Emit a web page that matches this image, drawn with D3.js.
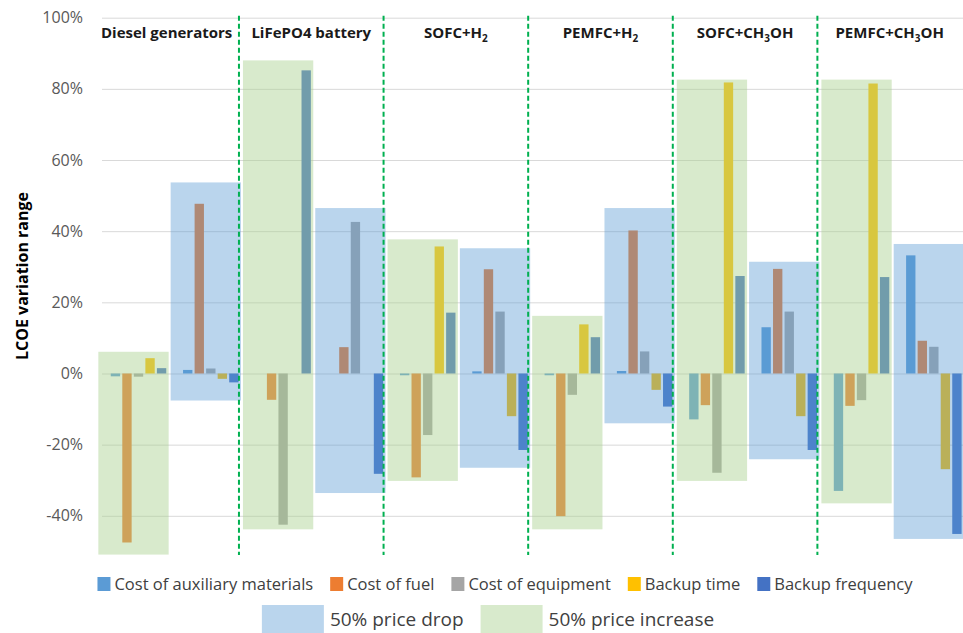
<!DOCTYPE html>
<html>
<head>
<meta charset="utf-8">
<script src="https://cdn.jsdelivr.net/npm/d3@7/dist/d3.min.js"></script>
<style>
  html, body { margin: 0; padding: 0; background: #fff; }
  svg { display: block; font-family: "Open Sans", "Noto Sans", sans-serif; }
</style>
</head>
<body>
<svg id="chart" width="963" height="633"></svg>
<script>
// ---------- data ----------
const technologies = ["Diesel generators", "LiFePO4 battery", "SOFC+H2", "PEMFC+H2", "SOFC+CH3OH", "PEMFC+CH3OH"];
const scenarios = ["50% price increase", "50% price drop"];
const seriesNames = ["Cost of auxiliary materials", "Cost of fuel", "Cost of equipment", "Backup time", "Backup frequency"];
// values in %, order: [tech1 increase, tech1 drop, tech2 increase, tech2 drop, ...]
const auxiliaryMaterials = [-0.8, 1.0, 0, 0, -0.5, 0.6, -0.5, 0.7, -12.9, 13.0, -33.0, 33.2];
const fuelCost          = [-47.5, 47.7, -7.4, 7.4, -29.2, 29.3, -40.1, 40.2, -8.9, 29.4, -9.1, 9.2];
const equipmentCost     = [-0.9, 1.4, -42.5, 42.6, -17.3, 17.4, -6.0, 6.2, -27.9, 17.4, -7.5, 7.5];
const backupTime        = [4.3, -1.5, 0, 0, 35.7, -12.0, 13.8, -4.6, 81.8, -12.0, 81.5, -26.9];
const backupFrequency   = [1.5, -2.5, 85.2, -28.2, 17.1, -21.5, 10.2, -9.3, 27.4, -21.5, 27.1, -45.1];
// overall variation range of each scenario box
const rangeHigh = [6.1, 53.7, 88.0, 46.5, 37.7, 35.2, 16.2, 46.5, 82.6, 31.4, 82.6, 36.4];
const rangeLow  = [-50.9, -7.6, -43.8, -33.6, -30.2, -26.5, -43.8, -14.0, -30.2, -24.1, -36.5, -46.5];
const yTicks = [-40, -20, 0, 20, 40, 60, 80, 100];

// ---------- styles ----------
const seriesColors = ["#5B9BD5", "#ED7D31", "#A5A5A5", "#FFC000", "#4472C4"];
const boxColor = { "50% price increase": "#A9D18E", "50% price drop": "#5B9BD5" };
const boxOpacity = { "50% price increase": 0.45, "50% price drop": 0.42 };

const svg = d3.select("#chart");
const values = [auxiliaryMaterials, fuelCost, equipmentCost, backupTime, backupFrequency];

const categories = [];
technologies.forEach(t => scenarios.forEach(s => categories.push(t + "|" + s)));

const x = d3.scaleBand().domain(categories).range([102.35, 970]).padding(0);
const inner = d3.scaleBand().domain(seriesNames).range([0, 55.5]).paddingInner(0.19);
const innerOffset = (x.bandwidth() - 55.5) / 2;
const y = d3.scaleLinear().domain([-40, 100]).range([515.8, 17.7]);

// gridlines + tick labels
const yAxis = d3.axisLeft(y).tickValues(yTicks).tickSize(-(963 - 102)).tickFormat(d => d + "%");
const gAxis = svg.append("g").attr("transform", "translate(102,0)").call(yAxis);
gAxis.select(".domain").remove();
gAxis.selectAll(".tick line").attr("stroke", "#d9d9d9").attr("stroke-width", 1);
gAxis.selectAll(".tick text").attr("x", -19).attr("fill", "#595959")
  .style("font-size", "16px").style("font-family", "'Open Sans', sans-serif");

// bars
const barData = [];
categories.forEach((c, ci) => {
  seriesNames.forEach((s, si) => {
    barData.push({ cat: c, series: s, si, v: values[si][ci] });
  });
});
svg.append("g").selectAll("rect").data(barData).join("rect")
  .attr("x", d => x(d.cat) + innerOffset + inner(d.series))
  .attr("width", inner.bandwidth())
  .attr("y", d => y(Math.max(0, d.v)))
  .attr("height", d => Math.abs(y(d.v) - y(0)))
  .attr("fill", d => seriesColors[d.si]);

// scenario boxes (semi-transparent, over the bars)
const boxData = categories.map((c, ci) => ({ cat: c, scen: c.split("|")[1], hi: rangeHigh[ci], lo: rangeLow[ci] }));
svg.append("g").selectAll("rect").data(boxData).join("rect")
  .attr("x", d => x(d.cat) - 4)
  .attr("width", x.bandwidth() - 2)
  .attr("y", d => y(d.hi))
  .attr("height", d => y(d.lo) - y(d.hi))
  .attr("fill", d => boxColor[d.scen])
  .attr("fill-opacity", d => boxOpacity[d.scen]);

// group separators
const sepCats = technologies.slice(1).map(t => t + "|" + scenarios[0]);
svg.append("g").selectAll("line").data(sepCats).join("line")
  .attr("x1", d => x(d) - 8).attr("x2", d => x(d) - 8)
  .attr("y1", y(100) - 2).attr("y2", y(-51))
  .attr("stroke", "#00B050").attr("stroke-width", 2)
  .attr("stroke-dasharray", "5,3");

// group titles with subscripts
const titles = svg.append("g");
technologies.forEach((t, ti) => {
  const cx = x(t + "|" + scenarios[0]) + x.bandwidth() - 8;
  const txt = titles.append("text").attr("x", cx).attr("y", 38)
    .attr("text-anchor", "middle").attr("fill", "#1a1a1a")
    .style("font-size", "15px").style("font-weight", "700");
  if (t.includes("+")) {
    const m = t.match(/^(.*?)(\d)(.*)$/);
    txt.append("tspan").text(m[1]);
    txt.append("tspan").text(m[2]).attr("dy", 4).style("font-size", "10px");
    txt.append("tspan").text(m[3]).attr("dy", -4);
  } else {
    txt.text(t);
  }
});

// y axis title
svg.append("text")
  .attr("transform", "translate(28,276) rotate(-90)")
  .attr("text-anchor", "middle").attr("fill", "#000")
  .style("font-size", "16px").style("font-weight", "700")
  .text("LCOE variation range");

// legend row 1: series
const leg1 = svg.append("g");
let cx = 0;
seriesNames.forEach((s, si) => {
  const g = leg1.append("g").attr("transform", `translate(${cx},0)`);
  g.append("rect").attr("x", 0).attr("y", -7).attr("width", 13).attr("height", 14).attr("fill", seriesColors[si]);
  const t = g.append("text").attr("x", 17).attr("y", 5.5).attr("fill", "#404040")
    .style("font-size", "16.5px").text(s);
  const w = t.node().getComputedTextLength();
  cx += 17 + w + 17;
});
const w1 = cx - 17;
leg1.attr("transform", `translate(${505 - w1 / 2},584)`);

// legend row 2: scenario boxes
const leg2 = svg.append("g");
let cx2 = 0;
["50% price drop", "50% price increase"].forEach(s => {
  const g = leg2.append("g").attr("transform", `translate(${cx2},0)`);
  g.append("rect").attr("x", 0).attr("y", -14).attr("width", 62).attr("height", 28)
    .attr("fill", boxColor[s]).attr("fill-opacity", boxOpacity[s]);
  const t = g.append("text").attr("x", 68).attr("y", 6.5).attr("fill", "#404040")
    .style("font-size", "19px").text(s);
  cx2 += 68 + t.node().getComputedTextLength() + 17;
});
const w2 = cx2 - 17;
leg2.attr("transform", `translate(${488 - w2 / 2},619)`);
</script>
</body>
</html>
